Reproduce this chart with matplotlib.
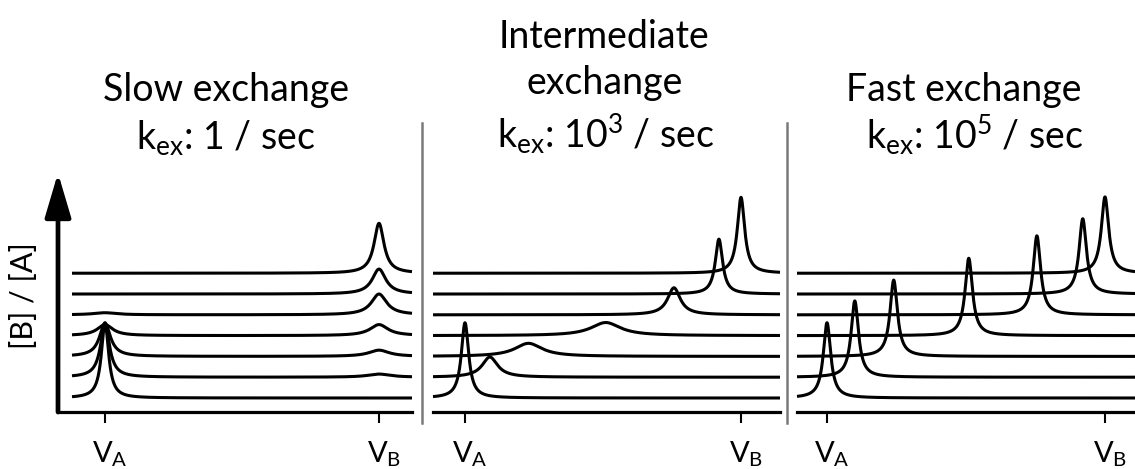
import numpy as np
import matplotlib
matplotlib.use("Agg")
import matplotlib.pyplot as plt
from matplotlib.lines import Line2D
from matplotlib.transforms import ScaledTranslation

# canvas size in pixels
W, H = 1135, 469
DPI = 100

# peak positions are given in units where V_A = 0 and V_B = 1;
# heights are in units of the vertical offset between stacked traces
SLOW_VA_HEIGHT = [3.62, 2.56, 1.60, 0.53, 0.10, 0.0, 0.0]
SLOW_VB_HEIGHT = [0.0, 0.15, 0.30, 0.53, 1.00, 1.20, 2.40]
SLOW_VA_WIDTH = [0.016, 0.020, 0.024, 0.034, 0.050, 0.05, 0.05]
SLOW_VB_WIDTH = [0.05, 0.050, 0.045, 0.040, 0.034, 0.030, 0.022]

INTER_POS = [0.0, 0.09, 0.23, 0.51, 0.757, 0.92, 1.0]
INTER_HEIGHT = [3.62, 0.97, 0.63, 0.63, 1.30, 2.64, 3.65]
INTER_WIDTH = [0.016, 0.034, 0.060, 0.065, 0.028, 0.016, 0.016]

FAST_POS = [0.0, 0.10, 0.24, 0.51, 0.755, 0.92, 1.0]
FAST_HEIGHT = [3.62, 3.67, 3.67, 3.72, 3.80, 3.62, 3.67]
FAST_WIDTH = [0.016, 0.016, 0.016, 0.016, 0.016, 0.016, 0.016]

TITLES = [
    ["Slow exchange", r"$\mathregular{k_{ex}}$: 1 / sec"],
    ["Intermediate", "exchange", r"$\mathregular{k_{ex}}$: $\mathregular{10^3}$ / sec"],
    ["Fast exchange", r"$\mathregular{k_{ex}}$: $\mathregular{10^5}$ / sec"],
]
TICK_LABELS = [r"$\mathregular{V_A}$", r"$\mathregular{V_B}$"]
Y_LABEL = "[B] / [A]"

plt.rcParams["font.family"] = ["Lato", "DejaVu Sans"]


def lorentz(x, pos, height, hwhm):
    return height * hwhm**2 / (hwhm**2 + (x - pos) ** 2)


def box(left, right, top, bottom):
    return [left / W, 1 - bottom / H, (right - left) / W, (bottom - top) / H]


def build_spectra():
    slow = [[(0.0, SLOW_VA_HEIGHT[i], SLOW_VA_WIDTH[i]), (1.0, SLOW_VB_HEIGHT[i], SLOW_VB_WIDTH[i])]
            for i in range(len(SLOW_VA_HEIGHT))]
    inter = [[(p, h, w)] for p, h, w in zip(INTER_POS, INTER_HEIGHT, INTER_WIDTH)]
    fast = [[(p, h, w)] for p, h, w in zip(FAST_POS, FAST_HEIGHT, FAST_WIDTH)]
    return [slow, inter, fast]


# panel layout in pixels: axes left/right, trace start, V_A and V_B tick positions
PANELS = [
    dict(left=58, right=412, start=72, va=105, vb=379, arrow=True),
    dict(left=433, right=780, start=433, va=465, vb=741, arrow=False),
    dict(left=797, right=1135, start=797, va=827, vb=1105, arrow=False),
]
AX_TOP, AX_BOTTOM = 173, 412
YLIM = (-0.673, 10.82)

fig = plt.figure(figsize=(W / DPI, H / DPI), dpi=DPI)
spectra = build_spectra()

for panel, traces in zip(PANELS, spectra):
    ax = fig.add_axes(box(panel["left"], panel["right"], AX_TOP, AX_BOTTOM))
    span = panel["vb"] - panel["va"]
    x0 = (panel["left"] - panel["va"]) / span
    x1 = (panel["right"] - panel["va"]) / span
    ax.set_xlim(x0, x1)
    ax.set_ylim(*YLIM)

    x = np.linspace((panel["start"] - panel["va"]) / span, x1, 3000)
    for k, peaks in enumerate(traces):
        y = np.full_like(x, float(k))
        for pos, height, hwhm in peaks:
            y += lorentz(x, pos, height, hwhm)
        ax.plot(x, y, color="black", lw=2.2, solid_capstyle="butt", clip_on=False)

    for side in ["top", "right", "left"]:
        ax.spines[side].set_visible(False)
    ax.spines["bottom"].set_linewidth(2.3)
    ax.set_yticks([])
    ax.set_xticks([0, 1], TICK_LABELS, fontsize=21)
    ax.tick_params(axis="x", length=8, width=1.5, pad=12, colors="black")
    for lab in ax.get_xticklabels():
        lab.set_transform(lab.get_transform() + ScaledTranslation(0.05, 0, fig.dpi_scale_trans))
    ax.patch.set_visible(False)

    if panel["arrow"]:
        ax.annotate("", xy=(0, 1), xytext=(0, 0), xycoords="axes fraction",
                    annotation_clip=False,
                    arrowprops=dict(arrowstyle="-|>,head_length=2.7,head_width=0.8",
                                    lw=3.4, color="black", shrinkA=0, shrinkB=0,
                                    mutation_scale=10))

# grey separators between the panels
for xs in [422, 787]:
    fig.add_artist(Line2D([xs / W, xs / W], [1 - 123 / H, 1 - 423 / H],
                          color="#7a7a7a", lw=1.8))

# panel headings
heading_x = [[226, 226], [604, 605, 606], [964, 975]]
heading_y = [[101, 149], [48, 94, 148], [101, 149]]
for lines, xs, ys in zip(TITLES, heading_x, heading_y):
    for text, tx, ty in zip(lines, xs, ys):
        fig.text(tx / W, 1 - ty / H, text, ha="center", va="baseline", fontsize=27)

fig.text(24 / W, 1 - 296 / H, Y_LABEL, rotation=90, ha="center", va="center", fontsize=22)

fig.savefig("out.png", dpi=DPI)
